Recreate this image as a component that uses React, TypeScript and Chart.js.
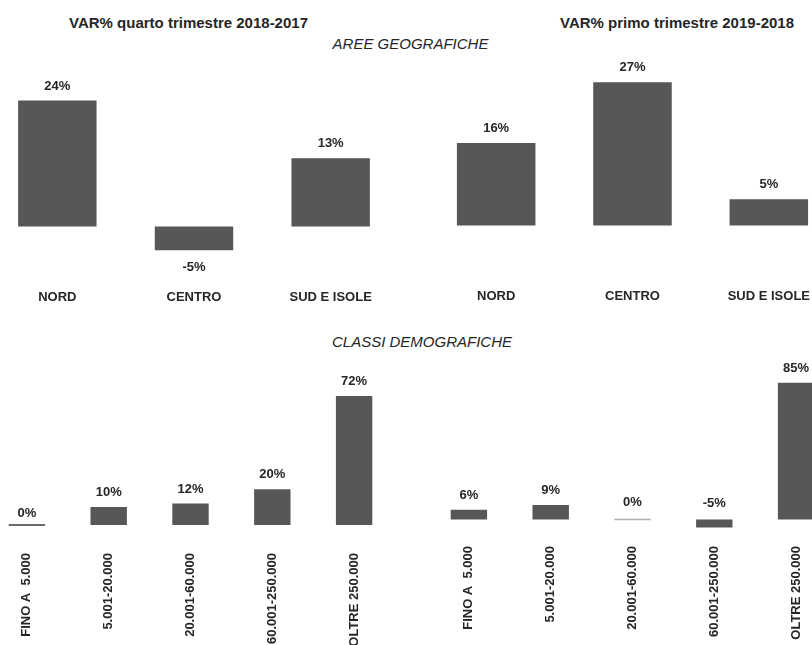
import React, { useEffect, useRef } from "react";
import { Chart, registerables } from "chart.js";

Chart.register(...registerables);

// ---- data ----
const areeLabels = ["NORD", "CENTRO", "SUD E ISOLE"];
const areeQ4 = [24, -4.5, 13];
const areeQ1 = [15.7, 27.3, 5];

const classiLabels = ["FINO A  5.000", "5.001-20.000", "20.001-60.000", "60.001-250.000", "OLTRE 250.000"];
const classiQ4 = [0, 10, 12, 20, 72];
const classiQ1 = [6, 9, 0, -5, 85];

const titleQ4 = "VAR% quarto trimestre 2018-2017";
const titleQ1 = "VAR% primo trimestre 2019-2018";
const subAree = "AREE GEOGRAFICHE";
const subClassi = "CLASSI DEMOGRAFICHE";

const SANS = '"Liberation Sans", Arial, sans-serif';
const BAR = "#575757";
const TEXT = "#262626";
const LABEL_SIZE = 13;

const valueLabels = {
  id: "valueLabels",
  afterDatasetsDraw(chart: any, _args: any, opts: any) {
    const { ctx } = chart;
    const meta = chart.getDatasetMeta(0);
    const data = chart.data.datasets[0].data as number[];
    const base = chart.scales.y.getPixelForValue(0);
    ctx.save();
    ctx.font = `bold ${LABEL_SIZE}px ${SANS}`;
    ctx.fillStyle = TEXT;
    ctx.textAlign = "center";
    ctx.textBaseline = "middle";
    meta.data.forEach((bar: any, i: number) => {
      const v = data[i];
      let y: number;
      if (v > 0) y = bar.y - opts.offset;
      else if (v === 0) y = base - opts.zeroOffset;
      else if (opts.negAbove) y = base - opts.negOffset;
      else y = bar.y + opts.negOffset;
      ctx.fillText(`${v.toFixed(0)}%`, bar.x, y);
    });
    ctx.restore();
  },
};

type BoxProps = {
  left: number;
  top: number;
  width: number;
  height: number;
  labels: string[];
  values: number[];
  yMin: number;
  yMax: number;
  axisHeight: number;
  rotate: boolean;
  barPct: number;
  negAbove: boolean;
  negOffset: number;
  zeroOffset: number;
  zeroColor: string;
};

function BarBox(p: BoxProps) {
  const ref = useRef<HTMLCanvasElement | null>(null);
  useEffect(() => {
    if (!ref.current) return;
    const chart = new Chart(ref.current, {
      type: "bar",
      data: {
        labels: p.labels,
        datasets: [
          {
            data: p.values,
            backgroundColor: p.values.map((v) => (v === 0 ? p.zeroColor : BAR)),
            borderWidth: 0,
            categoryPercentage: 1,
            barPercentage: p.barPct,
            minBarLength: 1.5,
          },
        ],
      },
      options: {
        responsive: false,
        animation: false,
        devicePixelRatio: 1,
        layout: { padding: 0 },
        plugins: {
          legend: { display: false },
          tooltip: { enabled: false },
          title: { display: false },
          valueLabels: { offset: 14.5, negAbove: p.negAbove, negOffset: p.negOffset, zeroOffset: p.zeroOffset },
        } as any,
        scales: {
          x: {
            grid: { display: false, drawTicks: false },
            border: { display: false },
            ticks: {
              autoSkip: false,
              padding: 4,
              color: TEXT,
              font: { family: SANS, size: LABEL_SIZE, weight: "bold" },
              maxRotation: p.rotate ? 90 : 0,
              minRotation: p.rotate ? 90 : 0,
            },
            afterFit: (scale: any) => {
              scale.height = p.axisHeight;
            },
          },
          y: {
            display: false,
            min: p.yMin,
            max: p.yMax,
          },
        },
      },
      plugins: [valueLabels as any],
    });
    return () => chart.destroy();
  }, []);
  return (
    <canvas
      ref={ref}
      width={p.width}
      height={p.height}
      style={{ position: "absolute", left: p.left, top: p.top, width: p.width, height: p.height }}
    />
  );
}

function Label(props: { text: string; cx: number; cy: number; bold?: boolean; italic?: boolean }) {
  return (
    <div
      style={{
        position: "absolute",
        left: props.cx - 200,
        top: props.cy - 10,
        width: 400,
        height: 20,
        lineHeight: "20px",
        textAlign: "center",
        fontFamily: SANS,
        fontSize: 15,
        fontWeight: props.bold ? "bold" : "normal",
        fontStyle: props.italic ? "italic" : "normal",
        color: TEXT,
        whiteSpace: "pre",
      }}
    >
      {props.text}
    </div>
  );
}

export default function App() {
  return (
    <div
      style={{
        position: "fixed",
        left: 0,
        top: 0,
        width: 812,
        height: 645,
        overflow: "hidden",
        background: "#ffffff",
      }}
    >
      <Label text={titleQ4} cx={188.5} cy={23} bold />
      <Label text={titleQ1} cx={677} cy={22.5} bold />
      <Label text={subAree} cx={410.5} cy={43.5} italic />
      <Label text={subClassi} cx={422} cy={341.5} italic />

      <BarBox
        left={-11}
        top={60}
        width={410}
        height={249}
        labels={areeLabels}
        values={areeQ4}
        yMin={-11.33}
        yMax={31.71}
        axisHeight={23}
        rotate={false}
        barPct={0.574}
        negAbove={false}
        negOffset={17}
        zeroOffset={12}
        zeroColor={BAR}
      />
      <BarBox
        left={428}
        top={60}
        width={409}
        height={248}
        labels={areeLabels}
        values={areeQ1}
        yMin={-11.33}
        yMax={31.52}
        axisHeight={23}
        rotate={false}
        barPct={0.576}
        negAbove={false}
        negOffset={17}
        zeroOffset={12}
        zeroColor={BAR}
      />
      <BarBox
        left={-14}
        top={360}
        width={409}
        height={289}
        labels={classiLabels}
        values={classiQ4}
        yMin={-13.41}
        yMax={92.18}
        axisHeight={100}
        rotate={true}
        barPct={0.445}
        negAbove={true}
        negOffset={16}
        zeroOffset={12}
        zeroColor="#3a3a3a"
      />
      <BarBox
        left={428}
        top={360}
        width={409}
        height={282}
        labels={classiLabels}
        values={classiQ1}
        yMin={-13.98}
        yMax={99.07}
        axisHeight={100}
        rotate={true}
        barPct={0.445}
        negAbove={true}
        negOffset={16}
        zeroOffset={17}
        zeroColor="#b0b0b0"
      />
    </div>
  );
}
